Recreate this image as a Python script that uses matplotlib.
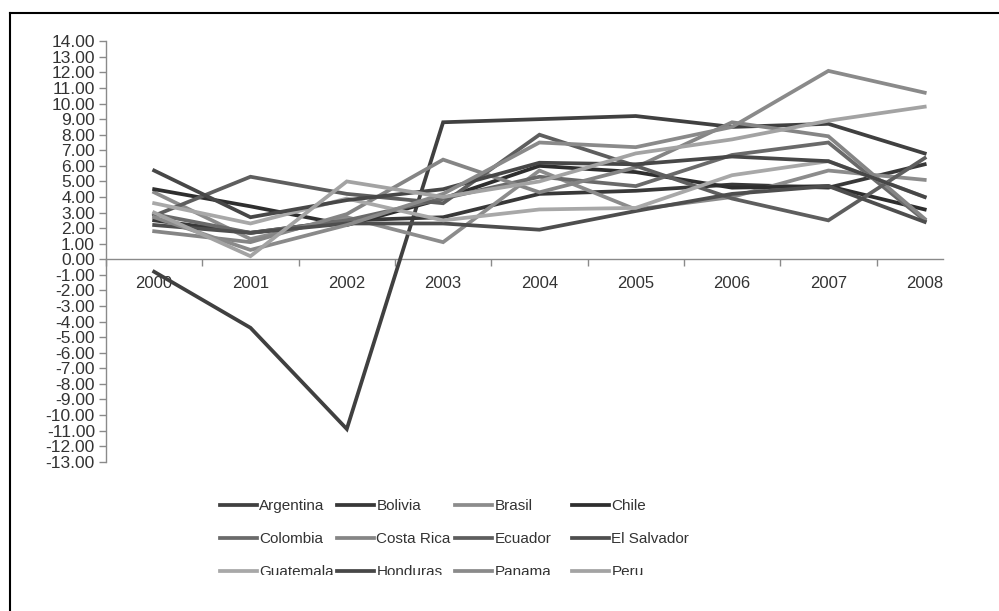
import matplotlib
matplotlib.use("Agg")
import matplotlib.pyplot as plt
from matplotlib.lines import Line2D
from matplotlib.patches import Rectangle
import numpy as np

years = ["2000", "2001", "2002", "2003", "2004", "2005", "2006", "2007", "2008"]
countries = ["Argentina", "Bolivia", "Brasil", "Chile", "Colombia", "Costa Rica",
             "Ecuador", "El Salvador", "Guatemala", "Honduras", "Panama", "Peru"]
argentina = [-0.8, -4.4, -10.9, 8.8, 9.0, 9.2, 8.5, 8.7, 6.8]
bolivia = [2.5, 1.7, 2.5, 2.7, 4.2, 4.4, 4.8, 4.6, 6.1]
brasil = [4.3, 1.3, 2.7, 1.1, 5.7, 3.2, 4.0, 5.7, 5.1]
chile = [4.5, 3.4, 2.2, 3.9, 6.0, 5.6, 4.6, 4.7, 3.2]
colombia = [2.9, 1.7, 2.5, 3.9, 5.3, 4.7, 6.7, 7.5, 2.5]
costa_rica = [1.8, 1.1, 2.9, 6.4, 4.3, 5.9, 8.8, 7.9, 2.6]
ecuador = [2.8, 5.3, 4.2, 3.6, 8.0, 6.0, 3.9, 2.5, 6.5]
el_salvador = [2.2, 1.7, 2.3, 2.3, 1.9, 3.1, 4.2, 4.7, 2.4]
guatemala = [3.6, 2.3, 3.9, 2.5, 3.2, 3.3, 5.4, 6.3, 4.0]
honduras = [5.7, 2.7, 3.8, 4.5, 6.2, 6.1, 6.6, 6.3, 4.0]
panama = [2.7, 0.6, 2.2, 4.2, 7.5, 7.2, 8.5, 12.1, 10.7]
peru = [3.0, 0.2, 5.0, 4.0, 5.0, 6.8, 7.7, 8.9, 9.8]
series = [argentina, bolivia, brasil, chile, colombia, costa_rica,
          ecuador, el_salvador, guatemala, honduras, panama, peru]
colors = ["#404040", "#383838", "#8c8c8c", "#2e2e2e", "#6a6a6a", "#858585",
          "#5e5e5e", "#4e4e4e", "#a8a8a8", "#474747", "#8a8a8a", "#a3a3a3"]
yticks = list(range(-13, 15))

plt.rcParams['font.family'] = ['Liberation Sans', 'DejaVu Sans']

W, H = 999, 611
fig = plt.figure(figsize=(W / 100, H / 100), dpi=100)
left_px, right_px = 106, 943
top_px, bot_px = 41.3, 461.7
ax = fig.add_axes([left_px / W, 1 - bot_px / H, (right_px - left_px) / W, (bot_px - top_px) / H])

x = np.arange(len(years))
handles = []
for name, vals, c in zip(countries, series, colors):
    h, = ax.plot(x, vals, color=c, lw=2.7, label=name, zorder=3, solid_joinstyle='miter')
    handles.append(h)

ax.set_xlim(-0.5, 8.19)
ax.set_ylim(-13, 14)

for s in ['top', 'right']:
    ax.spines[s].set_visible(False)
ax.spines['bottom'].set_position(('data', 0))
ax.spines['bottom'].set_color('#8a8a8a')
ax.spines['left'].set_color('#8a8a8a')
ax.spines['bottom'].set_linewidth(1.0)
ax.spines['left'].set_linewidth(1.0)

ax.set_yticks(yticks)
ax.set_yticklabels([f"{v:.2f}" for v in yticks], fontsize=12.5, color='#333333')
ax.tick_params(axis='y', direction='out', length=5, width=1, color='#8a8a8a', pad=3)

ax.set_xticks(np.arange(-0.5, 8.0, 1.0))
ax.set_xticklabels([])
ax.tick_params(axis='x', which='major', direction='out', length=5, width=1, color='#8a8a8a')
ax.set_xticks(x, minor=True)
ax.set_xticklabels(years, minor=True, fontsize=12, color='#333333')
ax.tick_params(axis='x', which='minor', length=0, pad=12)

# legends: four columns, row-major order
col_x = [220, 337, 455, 572]
for ci in range(4):
    idx = [ci, ci + 4, ci + 8]
    leg = fig.legend([handles[i] for i in idx], [countries[i] for i in idx],
                     loc='upper left', bbox_to_anchor=(col_x[ci] / W, 1 - 499 / H),
                     frameon=False, fontsize=11, handlelength=2.45, handletextpad=0.12,
                     labelspacing=1.25, borderpad=0, borderaxespad=0)
    leg.set_zorder(5)
    for t in leg.get_texts():
        t.set_color('#333333')

# clip the bottom of the legend like the reference
fig.add_artist(Rectangle((0.015, 0), 0.98, (H - 575) / H, transform=fig.transFigure,
                         facecolor='white', edgecolor='none', zorder=20))

# border on top and left
fig.add_artist(Line2D([10 / W, 1], [1 - 13 / H, 1 - 13 / H], transform=fig.transFigure,
                      color='black', lw=1.5, zorder=30))
fig.add_artist(Line2D([10 / W, 10 / W], [0, 1 - 13 / H], transform=fig.transFigure,
                      color='black', lw=1.5, zorder=30))

fig.savefig("out.png", dpi=100)
